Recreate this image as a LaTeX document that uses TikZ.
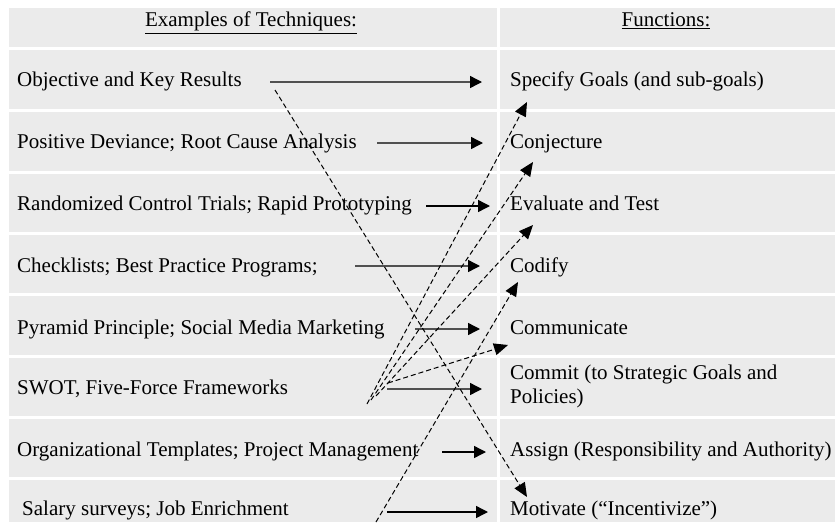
\documentclass[tikz,border=0pt]{standalone}
\usepackage{fontspec}
\setmainfont{Liberation Serif}
\usetikzlibrary{arrows.meta}
\definecolor{cellgray}{RGB}{235,235,235}
\definecolor{linegray}{RGB}{80,80,80}

\begin{document}
\begin{tikzpicture}[x=1pt,y=-1pt,
	lefttext/.style={inner sep=0pt,anchor=base west,font=\fontsize{21}{24}\selectfont},
	headtext/.style={inner sep=0pt,anchor=base,font=\fontsize{21}{24}\selectfont},
	solidarrow/.style={draw=linegray,line width=1.4pt,-{Triangle[length=12pt,width=12pt,color=black]}},
	dasharrow/.style={draw=black,line width=1pt,dash pattern=on 5pt off 3pt,-{Triangle[length=14pt,width=12pt]}},
	rule/.style={draw=white,line width=3pt}]
	\useasboundingbox (0,0) rectangle (835,522);
	\fill [cellgray] (9,8) rectangle (835,522);
	\draw [rule] (9,48) -- (835,48);
	\draw [rule] (9,110) -- (835,110);
	\draw [rule] (9,172) -- (835,172);
	\draw [rule] (9,233) -- (835,233);
	\draw [rule] (9,294) -- (835,294);
	\draw [rule] (9,356) -- (835,356);
	\draw [rule] (9,417) -- (835,417);
	\draw [rule] (9,478) -- (835,478);
	\draw [rule] (498,8) -- (498,522);

	\node [headtext] (techhead) at (251,27) {\underline{Examples of Techniques:}};
	\node [headtext] (funchead) at (666,27) {\underline{Functions:}};

	\node [lefttext] (okr) at (17,86) {Objective and Key Results};
	\node [lefttext] (deviance) at (17,148) {Positive Deviance; Root Cause Analysis};
	\node [lefttext] (trials) at (17,210) {Randomized Control Trials; Rapid Prototyping};
	\node [lefttext] (checklists) at (17,272) {Checklists; Best Practice Programs;};
	\node [lefttext] (pyramid) at (17,334) {Pyramid Principle; Social Media Marketing};
	\node [lefttext] (swot) at (17,394) {SWOT, Five-Force Frameworks};
	\node [lefttext] (templates) at (17,456) {Organizational Templates; Project Management};
	\node [lefttext] (salary) at (22,515) {Salary surveys; Job Enrichment};

	\node [lefttext] (specify) at (510,86) {Specify Goals (and sub-goals)};
	\node [lefttext] (conjecture) at (510,148) {Conjecture};
	\node [lefttext] (evaluate) at (510,210) {Evaluate and Test};
	\node [lefttext] (codify) at (510,272) {Codify};
	\node [lefttext] (communicate) at (510,334) {Communicate};
	\node [lefttext,anchor=west,align=left] (commit) at (510,386) {Commit (to Strategic Goals and\\Policies)};
	\node [lefttext] (assign) at (510,456) {Assign (Responsibility and Authority)};
	\node [lefttext] (motivate) at (510,515) {Motivate (``Incentivize'')};

	\coordinate (okrout) at (270,82);
	\coordinate (specifyin) at (482,82);
	\coordinate (devianceout) at (377,143);
	\coordinate (conjecturein) at (483,143);
	\coordinate (trialsout) at (426,206);
	\coordinate (evaluatein) at (490,206);
	\coordinate (checklistsout) at (355,266);
	\coordinate (codifyin) at (480,266);
	\coordinate (pyramidout) at (415,329);
	\coordinate (communicatein) at (480,329);
	\coordinate (swotout) at (387,389);
	\coordinate (commitin) at (482,389);
	\coordinate (templatesout) at (442,452);
	\coordinate (assignin) at (486,452);
	\coordinate (salaryout) at (387,512);
	\coordinate (motivatein) at (488,512);

	\draw [solidarrow] (okrout) -- (specifyin);
	\draw [solidarrow] (devianceout) -- (conjecturein);
	\draw [solidarrow,draw=black] (trialsout) -- (evaluatein);
	\draw [solidarrow] (checklistsout) -- (codifyin);
	\draw [solidarrow] (pyramidout) -- (communicatein);
	\draw [solidarrow] (swotout) -- (commitin);
	\draw [solidarrow,draw=black] (templatesout) -- (assignin);
	\draw [solidarrow,draw=black] (salaryout) -- (motivatein);

	\coordinate (okrdash) at (275,90);
	\coordinate (motivatedash) at (527,497);
	\coordinate (swotdasha) at (367,404);
	\coordinate (swotdashb) at (371,400);
	\coordinate (swotdashc) at (376,396);
	\coordinate (swotdashd) at (388,383);
	\coordinate (specifydash) at (527,102);
	\coordinate (conjecturedash) at (533,162);
	\coordinate (evaluatedash) at (533,225);
	\coordinate (communicatedash) at (508,345);
	\coordinate (bottomdash) at (376,522);
	\coordinate (codifydash) at (518,282);

	\draw [dasharrow] (okrdash) -- (motivatedash);
	\draw [dasharrow] (swotdasha) -- (specifydash);
	\draw [dasharrow] (swotdashb) -- (conjecturedash);
	\draw [dasharrow] (swotdashc) -- (evaluatedash);
	\draw [dasharrow] (swotdashd) -- (communicatedash);
	\draw [dasharrow] (bottomdash) -- (codifydash);
\end{tikzpicture}
\end{document}
